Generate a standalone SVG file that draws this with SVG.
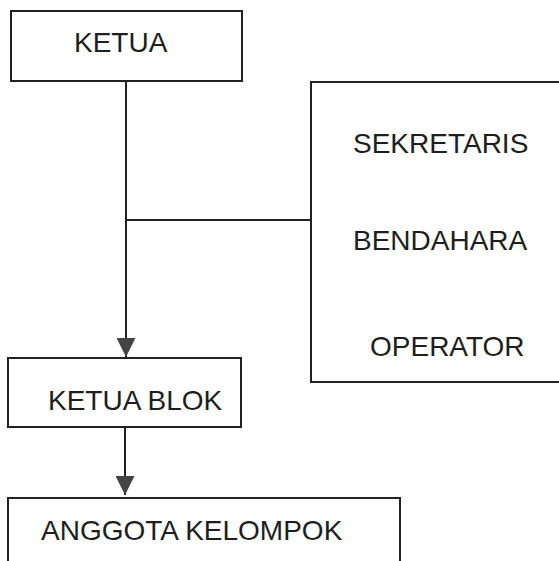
<svg xmlns="http://www.w3.org/2000/svg" width="559" height="561" viewBox="0 0 559 561">
<style>
.box{fill:#fff;stroke:#222;stroke-width:2}
.lbl{font-family:"Liberation Sans",Arial,sans-serif;font-size:28px;fill:#1e1e1e}
.ln{stroke:#222;stroke-width:2;fill:none}
</style>
<defs>
<marker id="arr" markerUnits="userSpaceOnUse" markerWidth="20" markerHeight="19" refX="19" refY="9.5" orient="auto">
<path d="M0,0 L19,9.5 L0,19 Z" fill="#444"/>
</marker>
</defs>
<rect width="559" height="561" fill="#fff"/>
<g id="connectors">
<line class="ln" x1="126" y1="81" x2="126" y2="357" marker-end="url(#arr)"/>
<line class="ln" x1="126" y1="220" x2="311" y2="220"/>
<line class="ln" x1="125" y1="427" x2="125" y2="495" marker-end="url(#arr)"/>
</g>
<g id="ketua">
<rect class="box" x="11" y="11" width="231" height="70"/>
<text class="lbl" x="74" y="52">KETUA</text>
</g>
<g id="staf">
<rect class="box" x="311" y="82" width="270" height="300"/>
<text class="lbl" x="353" y="153">SEKRETARIS</text>
<text class="lbl" x="353" y="250">BENDAHARA</text>
<text class="lbl" x="370" y="356">OPERATOR</text>
</g>
<g id="ketua-blok">
<rect class="box" x="8" y="358" width="233" height="69"/>
<text class="lbl" x="48" y="410">KETUA BLOK</text>
</g>
<g id="anggota">
<rect class="box" x="8" y="498" width="392" height="80"/>
<text class="lbl" x="41" y="540">ANGGOTA KELOMPOK</text>
</g>
</svg>
